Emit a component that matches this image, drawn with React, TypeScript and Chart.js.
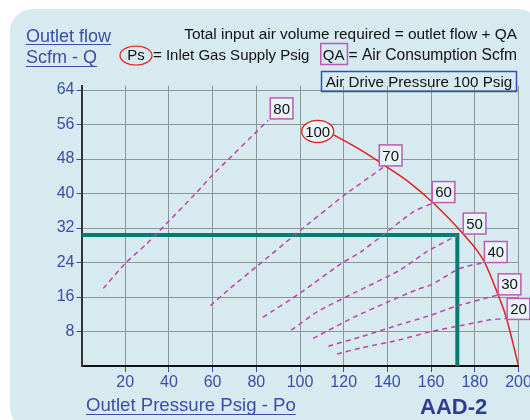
import React, { useEffect, useRef } from "react";
import { Chart, registerables } from "chart.js";

Chart.register(...registerables);

const FONT = '"Liberation Sans", Arial, sans-serif';
const BLUE = "rgb(58,78,168)";
const MAGENTA = "rgb(196,64,168)";
const BOX = "rgb(190,90,180)";
const RED = "rgb(230,30,30)";
const TEAL = "rgb(0,125,115)";
const PANEL = "rgb(214,234,240)";

// Axis ticks
const xTicks = [20, 40, 60, 80, 100, 120, 140, 160, 180, 200];
const yTicks = [8, 16, 24, 32, 40, 48, 56, 64];

// Inlet gas supply pressure curves (Psig): outlet pressure (x) vs outlet flow (y)
const inletPressures = [80, 70, 60, 50, 40, 30, 20];
const x80 = [10, 20, 30, 37.5, 53, 60, 85.5];
const y80 = [18, 23.8, 28.4, 32.3, 40.4, 44.3, 57];
const x70 = [59, 68, 80, 98.6, 120, 139];
const y70 = [14, 18, 23, 30.8, 39.5, 46.4];
const x60 = [83, 100, 119, 128, 138, 152, 161];
const y60 = [11.3, 16.9, 23.8, 26.5, 30.4, 35.8, 37.8];
const x50 = [96, 108, 125, 146, 158, 172];
const y50 = [8.3, 12.6, 17, 22.3, 26.5, 30.3];
const x40 = [106, 125, 140, 154, 160, 173, 184.4];
const y40 = [6.4, 11.4, 14.8, 17.8, 18.8, 22.6, 24];
const x30 = [113, 128, 145, 160, 171, 190.8];
const y30 = [4.6, 6.8, 9.5, 11.8, 13.8, 16.5];
const x20 = [117, 128, 145, 160, 175, 187, 194.4];
const y20 = [2.8, 4.2, 6, 8, 9.5, 10.7, 11];

// Air drive pressure 100 Psig limit curve
const x100 = [114, 129, 139, 149.7, 161, 174.5, 184.2, 190.5, 194.2, 197.1, 200];
const y100 = [54, 49.7, 46.4, 42.7, 37.8, 30.7, 24.3, 16.7, 11.6, 6, 0];

// Example operating point
const examplePressure = 172;
const exampleFlow = 30.4;

// Label anchors (data coordinates) for the inlet pressure tags
const labelX = [86.4, 136.3, 160.5, 174.7, 184.4, 190.7, 194.8];
const labelY = [57.3, 46.4, 37.9, 30.6, 24, 16.5, 10.8];
const label100X = 108.1;
const label100Y = 54.4;

const zip = (xs: number[], ys: number[]) => xs.map((x, i) => ({ x, y: ys[i] }));

const seriesX = [x80, x70, x60, x50, x40, x30, x20];
const seriesY = [y80, y70, y60, y50, y40, y30, y20];

const bgPlugin = {
  id: "panelBg",
  beforeDraw(chart: any) {
    const ctx = chart.ctx;
    ctx.save();
    ctx.fillStyle = "#fff";
    ctx.fillRect(0, 0, chart.width, chart.height);
    ctx.fillStyle = PANEL;
    ctx.beginPath();
    (ctx as any).roundRect(10, 9, 530, 420, 22);
    ctx.fill();
    ctx.restore();
  },
};

const textPlugin = {
  id: "texts",
  afterDraw(chart: any) {
    const ctx = chart.ctx;
    const xs = chart.scales.x;
    const ys = chart.scales.y;
    ctx.save();

    // Curve tags
    ctx.font = `15px ${FONT}`;
    inletPressures.forEach((p, i) => {
      const px = xs.getPixelForValue(labelX[i]);
      const py = ys.getPixelForValue(labelY[i]);
      const t = String(p);
      const w = ctx.measureText(t).width + 6;
      const h = 21;
      ctx.fillStyle = "rgb(232,244,247)";
      ctx.fillRect(px, py - h, w, h);
      ctx.strokeStyle = BOX;
      ctx.lineWidth = 1.5;
      ctx.strokeRect(px, py - h, w, h);
      ctx.fillStyle = "#111";
      ctx.textAlign = "center";
      ctx.textBaseline = "middle";
      ctx.fillText(t, px + w / 2, py - h / 2 + 1);
    });

    // 100 ellipse
    {
      const cx = xs.getPixelForValue(label100X);
      const cy = ys.getPixelForValue(label100Y);
      ctx.fillStyle = "rgb(232,244,247)";
      ctx.beginPath();
      ctx.ellipse(cx, cy, 16, 11, 0, 0, Math.PI * 2);
      ctx.fill();
      ctx.strokeStyle = RED;
      ctx.lineWidth = 1.3;
      ctx.stroke();
      ctx.fillStyle = "#111";
      ctx.textAlign = "center";
      ctx.textBaseline = "middle";
      ctx.fillText("100", cx, cy + 1);
    }

    // Header texts
    ctx.textBaseline = "alphabetic";
    ctx.font = `18px ${FONT}`;
    ctx.fillStyle = BLUE;
    ctx.strokeStyle = BLUE;
    ctx.lineWidth = 1;
    ctx.textAlign = "left";
    const under = (t: string, x: number, y: number, off: number) => {
      ctx.fillText(t, x, y);
      const w = ctx.measureText(t).width;
      ctx.beginPath();
      ctx.moveTo(x, y + off);
      ctx.lineTo(x + w, y + off);
      ctx.stroke();
    };
    under("Outlet flow", 26, 42, 2.5);
    under("Scfm - Q", 26, 63, 3.5);
    ctx.font = `18.6px ${FONT}`;
    under("Outlet Pressure Psig - Po", 86, 411, 3.5);

    ctx.font = `bold 22px ${FONT}`;
    ctx.fillStyle = "rgb(45,62,145)";
    ctx.fillText("AAD-2", 420, 414);

    ctx.fillStyle = "#111";
    ctx.textAlign = "right";
    ctx.font = `15.4px ${FONT}`;
    ctx.fillText("Total input air volume required = outlet flow + QA", 517, 38.5);
    ctx.font = `15.6px ${FONT}`;
    ctx.fillText("= Air Consumption Scfm", 517, 60);
    const aw = ctx.measureText("= Air Consumption Scfm").width;

    ctx.font = `15px ${FONT}`;
    ctx.textAlign = "left";
    ctx.fillText("= Inlet Gas Supply Psig", 153, 60);
    ctx.textAlign = "center";
    ctx.fillText("Ps", 136, 60);
    ctx.strokeStyle = RED;
    ctx.lineWidth = 1.2;
    ctx.beginPath();
    ctx.ellipse(136, 55.5, 16, 9.5, 0, 0, Math.PI * 2);
    ctx.stroke();

    // QA box
    ctx.textAlign = "left";
    const qaW = ctx.measureText("QA").width;
    const qaRight = 517 - aw - 3;
    ctx.fillText("QA", qaRight - qaW - 1, 60);
    ctx.strokeStyle = BOX;
    ctx.lineWidth = 1.5;
    ctx.strokeRect(qaRight - qaW - 3, 43.5, qaW + 5, 21);

    // Air drive box
    ctx.strokeStyle = "rgb(50,80,180)";
    ctx.lineWidth = 1.5;
    ctx.strokeRect(321.5, 71.5, 195, 20);
    ctx.textAlign = "center";
    ctx.fillStyle = "#111";
    ctx.font = `15.2px ${FONT}`;
    ctx.fillText("Air Drive Pressure 100 Psig", 419, 87);

    ctx.restore();
  },
};

export default function App() {
  const ref = useRef<HTMLCanvasElement>(null);
  useEffect(() => {
    if (!ref.current) return;
    const dashed = seriesX.map((xs, i) => ({
      label: `${inletPressures[i]} Psig`,
      data: zip(xs, seriesY[i]),
      borderColor: MAGENTA,
      borderWidth: 1.5,
      borderDash: [5, 4],
      pointRadius: 0,
      tension: 0.2,
      fill: false,
    }));
    const chart = new Chart(ref.current, {
      type: "line",
      data: {
        datasets: [
          ...dashed,
          {
            label: "100",
            data: zip(x100, y100),
            borderColor: RED,
            borderWidth: 1.5,
            pointRadius: 0,
            cubicInterpolationMode: "monotone",
            fill: false,
          },
          {
            label: "example",
            data: [
              { x: 0, y: exampleFlow },
              { x: examplePressure, y: exampleFlow },
              { x: examplePressure, y: 0 },
            ],
            borderColor: TEAL,
            borderWidth: 4,
            borderJoinStyle: "miter",
            pointRadius: 0,
            tension: 0,
            fill: false,
          },
        ] as any,
      },
      options: {
        responsive: false,
        animation: false,
        layout: { padding: { top: 85.7, right: 11.5, left: 0, bottom: 0 } },
        plugins: { legend: { display: false }, tooltip: { enabled: false } },
        scales: {
          x: {
            type: "linear",
            min: 0,
            max: 200,
            afterBuildTicks: (s: any) => {
              s.ticks = xTicks.map((v) => ({ value: v }));
            },
            afterFit: (s: any) => {
              s.height = 54;
              s.paddingLeft = 0;
              s.paddingRight = 0;
            },
            grid: { color: "rgb(140,150,152)", lineWidth: 1, tickColor: BLUE, tickLength: 6 },
            border: { color: "#111", width: 2 },
            ticks: { color: BLUE, font: { family: FONT, size: 16 }, padding: 1, maxRotation: 0, autoSkip: false },
          },
          y: {
            type: "linear",
            min: 0,
            max: 65,
            afterBuildTicks: (s: any) => {
              s.ticks = yTicks.map((v) => ({ value: v }));
            },
            afterFit: (s: any) => {
              s.width = 81.5;
              s.paddingTop = 0;
              s.paddingBottom = 0;
            },
            grid: { color: "rgb(140,150,152)", lineWidth: 1, tickColor: BLUE, tickLength: 5 },
            border: { color: "#333", width: 2 },
            ticks: { color: BLUE, font: { family: FONT, size: 16 }, padding: 2, autoSkip: false },
          },
        },
      },
      plugins: [bgPlugin, textPlugin],
    });
    return () => chart.destroy();
  }, []);
  return (
    <div style={{ position: "fixed", left: 0, top: 0, width: 530, height: 420, background: "#fff" }}>
      <canvas ref={ref} width={530} height={420} style={{ display: "block" }} />
    </div>
  );
}
